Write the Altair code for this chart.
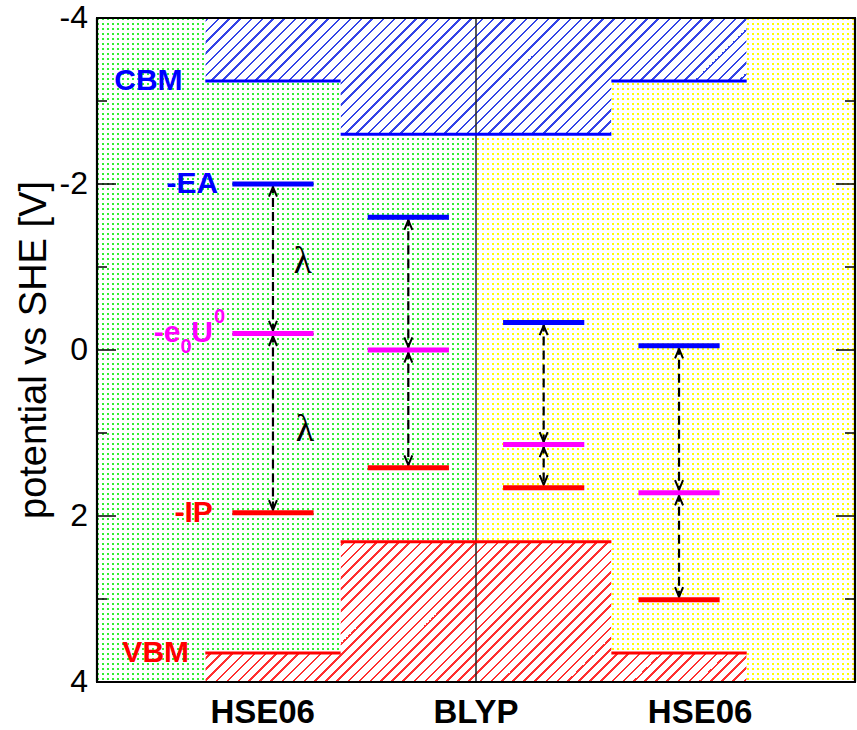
import math
import altair as alt
import pandas as pd

# ---------------- data ----------------
band_method = ["HSE06", "BLYP", "HSE06"]
cbm = [-3.24, -2.60, -3.24]          # conduction band minimum (V vs SHE)
vbm = [3.65, 2.31, 3.65]             # valence band maximum

level_group = ["HSE06", "BLYP", "BLYP", "HSE06"]
ea = [-2.00, -1.60, -0.33, -0.05]    # -EA
u0 = [-0.20, 0.00, 1.14, 1.72]       # -e0U0
ip = [1.96, 1.42, 1.66, 3.01]        # -IP

method_labels = ["HSE06", "BLYP", "HSE06"]
y_major = [-4, -2, 0, 2, 4]
y_minor = [-3, -1, 1, 3]
y_title = "potential vs SHE [V]"

# --------------- layout ---------------
W, H = 758, 664
XMAX = 7.0
SX = W / XMAX
SY = H / 8.0
band_x0 = [1.0, 2.25, 4.75]
band_x1 = [2.25, 4.75, 6.0]
level_x0 = [1.25, 2.5, 3.75, 5.0]
level_x1 = [2.0, 3.25, 4.5, 5.75]
label_x = [1.53, 3.5, 5.57]
mid_x = 3.5
FONT = "Liberation Sans"

xs = alt.Scale(domain=[0, XMAX], nice=False, zero=False)
ys = alt.Scale(domain=[-4, 4], nice=False, zero=False, reverse=True)


def stripe_stops(length, start, period, width, on, off):
    stops = [(0.0, off)]
    k = math.floor(start / period) - 1
    while True:
        a = k * period - start
        b = a + width
        if a >= length:
            break
        a2, b2 = max(a, 0.0), min(b, length)
        if b2 > a2:
            stops += [(a2 / length, off), (a2 / length, on),
                      (b2 / length, on), (b2 / length, off)]
        k += 1
    stops.append((1.0, off))
    return [{"offset": round(o, 6), "color": c} for o, c in stops]


def rect(x0, x1, y0, y1, fill):
    df = pd.DataFrame({"x0": [x0], "x1": [x1], "y0": [y0], "y1": [y1]})
    return alt.Chart(df).mark_rect(fill=fill, strokeWidth=0).encode(
        x=alt.X("x0:Q", scale=xs, axis=None), x2="x1",
        y=alt.Y("y0:Q", scale=ys, axis=None), y2="y1")


def dotted(x0, x1, y0, y1, color, dot):
    wpx = (x1 - x0) * SX
    hpx = (y1 - y0) * SY
    sx = x0 * SX
    sy = (y0 + 4) * SY
    g1 = {"gradient": "linear", "x1": 0, "y1": 0, "x2": 1, "y2": 0,
          "stops": stripe_stops(wpx, sx, 5, dot, color, "#ffffff")}
    g2 = {"gradient": "linear", "x1": 0, "y1": 0, "x2": 0, "y2": 1,
          "stops": stripe_stops(hpx, sy, 5, dot, "rgba(255,255,255,0)", "#ffffff")}
    return [rect(x0, x1, y0, y1, g1), rect(x0, x1, y0, y1, g2)]


def hatched(x0, x1, y0, y1, color):
    wpx = (x1 - x0) * SX
    hpx = (y1 - y0) * SY
    r = hpx / wpx
    k = (1 + r) / (1 + r * r)
    start = x0 * SX + (y0 + 4) * SY
    g = {"gradient": "linear", "x1": 0, "y1": 0, "x2": k, "y2": k * r,
         "stops": stripe_stops(wpx + hpx, start, 11, 2.2, color, "#ffffff")}
    return rect(x0, x1, y0, y1, g)


layers = []
# hatched band regions
layers.append(hatched(band_x0[0], band_x1[2], -4, max(cbm), "#3344e6"))
layers.append(hatched(band_x0[0], band_x1[2], min(vbm), 4, "#ff3030"))

# dotted backgrounds (green left, yellow right)
green = "#30f030"
yellow = "#ffff00"
pieces = [
    (0.0, band_x0[0], -4, 4, green, 2.0),
    (band_x0[0], band_x1[0], cbm[0], vbm[0], green, 2.0),
    (band_x0[1], mid_x, cbm[1], vbm[1], green, 2.0),
    (mid_x, band_x1[1], cbm[1], vbm[1], yellow, 2.3),
    (band_x0[2], band_x1[2], cbm[2], vbm[2], yellow, 2.3),
    (band_x1[2], XMAX, -4, 4, yellow, 2.3),
]
for p in pieces:
    layers += dotted(*p)

# middle separator
layers.append(alt.Chart(pd.DataFrame({"x": [mid_x]})).mark_rule(
    color="#222222", strokeWidth=1.5).encode(x=alt.X("x:Q", scale=xs, axis=None)))

# CBM / VBM lines
band_df = pd.DataFrame({"method": band_method, "x0": band_x0, "x1": band_x1,
                        "cbm": cbm, "vbm": vbm})
layers.append(alt.Chart(band_df).mark_rule(color="#0000ff", strokeWidth=3).encode(
    x=alt.X("x0:Q", scale=xs, axis=None), x2="x1",
    y=alt.Y("cbm:Q", scale=ys, axis=None)))
layers.append(alt.Chart(band_df).mark_rule(color="#ff0000", strokeWidth=3).encode(
    x=alt.X("x0:Q", scale=xs, axis=None), x2="x1",
    y=alt.Y("vbm:Q", scale=ys, axis=None)))

# arrows
arr_rows = []
for i in range(len(ea)):
    xc = (level_x0[i] + level_x1[i]) / 2
    arr_rows.append({"x": xc, "top": ea[i], "bot": u0[i]})
    arr_rows.append({"x": xc, "top": u0[i], "bot": ip[i]})
arr_df = pd.DataFrame(arr_rows)
layers.append(alt.Chart(arr_df).mark_rule(color="black", strokeWidth=2.2,
                                          strokeDash=[9, 5]).encode(
    x=alt.X("x:Q", scale=xs, axis=None),
    y=alt.Y("top:Q", scale=ys, axis=None), y2="bot"))
layers.append(alt.Chart(arr_df).mark_point(
    shape="M-1,2.4L0,0L1,2.4", filled=False, stroke="black", strokeWidth=2,
    size=64, yOffset=3, opacity=1).encode(
    x=alt.X("x:Q", scale=xs, axis=None), y=alt.Y("top:Q", scale=ys, axis=None)))
layers.append(alt.Chart(arr_df).mark_point(
    shape="M-1,-2.4L0,0L1,-2.4", filled=False, stroke="black", strokeWidth=2,
    size=64, yOffset=-3, opacity=1).encode(
    x=alt.X("x:Q", scale=xs, axis=None), y=alt.Y("bot:Q", scale=ys, axis=None)))

# level lines
lv_rows = []
for i in range(len(ea)):
    for val, col in ((ea[i], "#0000ff"), (u0[i], "#ff00ff"), (ip[i], "#ff0000")):
        lv_rows.append({"group": level_group[i], "x0": level_x0[i],
                        "x1": level_x1[i], "v": val, "c": col})
lv_df = pd.DataFrame(lv_rows)
layers.append(alt.Chart(lv_df).mark_rule(strokeWidth=5).encode(
    x=alt.X("x0:Q", scale=xs, axis=None), x2="x1",
    y=alt.Y("v:Q", scale=ys, axis=None),
    color=alt.Color("c:N", scale=None)))

# level labels
tag_df = pd.DataFrame({
    "t": ["CBM", "-EA", "-IP", "VBM", "-e"],
    "x": [0.79, 1.12, 1.07, 0.85, 0.77],
    "y": [cbm[0], ea[0], ip[0], vbm[0], u0[0]],
    "c": ["#0000ff", "#0000ff", "#ff0000", "#ff0000", "#ff00ff"],
})
layers.append(alt.Chart(tag_df).mark_text(
    align="right", baseline="middle", font=FONT, fontWeight="bold",
    fontSize=30).encode(
    x=alt.X("x:Q", scale=xs, axis=None), y=alt.Y("y:Q", scale=ys, axis=None),
    text="t:N", color=alt.Color("c:N", scale=None)))
u_df = pd.DataFrame({"t": ["U"], "x": [0.87], "y": [u0[0]]})
layers.append(alt.Chart(u_df).mark_text(
    align="left", baseline="middle", font=FONT, fontWeight="bold",
    fontSize=30, color="#ff00ff").encode(
    x=alt.X("x:Q", scale=xs, axis=None), y=alt.Y("y:Q", scale=ys, axis=None),
    text="t:N"))
sub_df = pd.DataFrame({"t": ["0"], "x": [0.77], "y": [u0[0]]})
layers.append(alt.Chart(sub_df).mark_text(
    align="left", baseline="middle", font=FONT, fontWeight="bold",
    fontSize=20, color="#ff00ff", dy=14).encode(
    x=alt.X("x:Q", scale=xs, axis=None), y=alt.Y("y:Q", scale=ys, axis=None),
    text="t:N"))
sup_df = pd.DataFrame({"t": ["0"], "x": [1.08], "y": [u0[0]]})
layers.append(alt.Chart(sup_df).mark_text(
    align="left", baseline="middle", font=FONT, fontWeight="bold",
    fontSize=20, color="#ff00ff", dy=-16).encode(
    x=alt.X("x:Q", scale=xs, axis=None), y=alt.Y("y:Q", scale=ys, axis=None),
    text="t:N"))

# lambda annotations
lam_df = pd.DataFrame({"x": [1.9, 1.92], "y": [-1.06, 0.96]})
layers.append(alt.Chart(lam_df).mark_text(
    text="λ", font="Liberation Serif", fontSize=38, color="black",
    baseline="middle", align="center").encode(
    x=alt.X("x:Q", scale=xs, axis=None), y=alt.Y("y:Q", scale=ys, axis=None)))

# ticks (inward, both sides)
maj_df = pd.DataFrame({"v": y_major})
min_df = pd.DataFrame({"v": y_minor})
for d, ln in ((maj_df, 19), (min_df, 10)):
    layers.append(alt.Chart(d).mark_rule(color="black", strokeWidth=1.5).encode(
        y=alt.Y("v:Q", scale=ys, axis=None), x=alt.value(0), x2=alt.value(ln)))
    layers.append(alt.Chart(d).mark_rule(color="black", strokeWidth=1.5).encode(
        y=alt.Y("v:Q", scale=ys, axis=None), x=alt.value(W - ln), x2=alt.value(W)))

# y tick labels
ylab_df = pd.DataFrame({"v": y_major, "t": [str(v) for v in y_major]})
layers.append(alt.Chart(ylab_df).mark_text(
    align="right", baseline="middle", font=FONT, fontSize=32, color="black",
    dx=-9).encode(
    y=alt.Y("v:Q", scale=ys, axis=None), x=alt.value(0), text="t:N"))

# y axis title
ytitle_df = pd.DataFrame({"t": [y_title]})
layers.append(alt.Chart(ytitle_df).mark_text(
    angle=270, align="center", baseline="middle", font=FONT, fontSize=38,
    color="black").encode(
    x=alt.value(-62), y=alt.value(H / 2), text="t:N"))

# x category labels
xlab_df = pd.DataFrame({"x": label_x, "t": method_labels})
layers.append(alt.Chart(xlab_df).mark_text(
    align="center", baseline="alphabetic", font=FONT, fontSize=33,
    fontWeight="bold", color="black").encode(
    x=alt.X("x:Q", scale=xs, axis=None), y=alt.value(H + 41), text="t:N"))

# frame (four rules on the domain edges)
frame_v = pd.DataFrame({"x": [0.0, XMAX]})
frame_h = pd.DataFrame({"y": [-4.0, 4.0]})
layers.append(alt.Chart(frame_v).mark_rule(color="black", strokeWidth=2.2).encode(
    x=alt.X("x:Q", scale=xs, axis=None)))
layers.append(alt.Chart(frame_h).mark_rule(color="black", strokeWidth=2.2).encode(
    y=alt.Y("y:Q", scale=ys, axis=None)))

chart = alt.layer(*layers).properties(
    width=W, height=H,
    autosize=alt.AutoSizeParams(type="none"),
    padding={"left": 97, "top": 18, "right": 2, "bottom": 48},
    background="white",
).configure_view(stroke="black", strokeWidth=2)

chart.save("out.html", embed_options={"renderer": "svg", "actions": False})
